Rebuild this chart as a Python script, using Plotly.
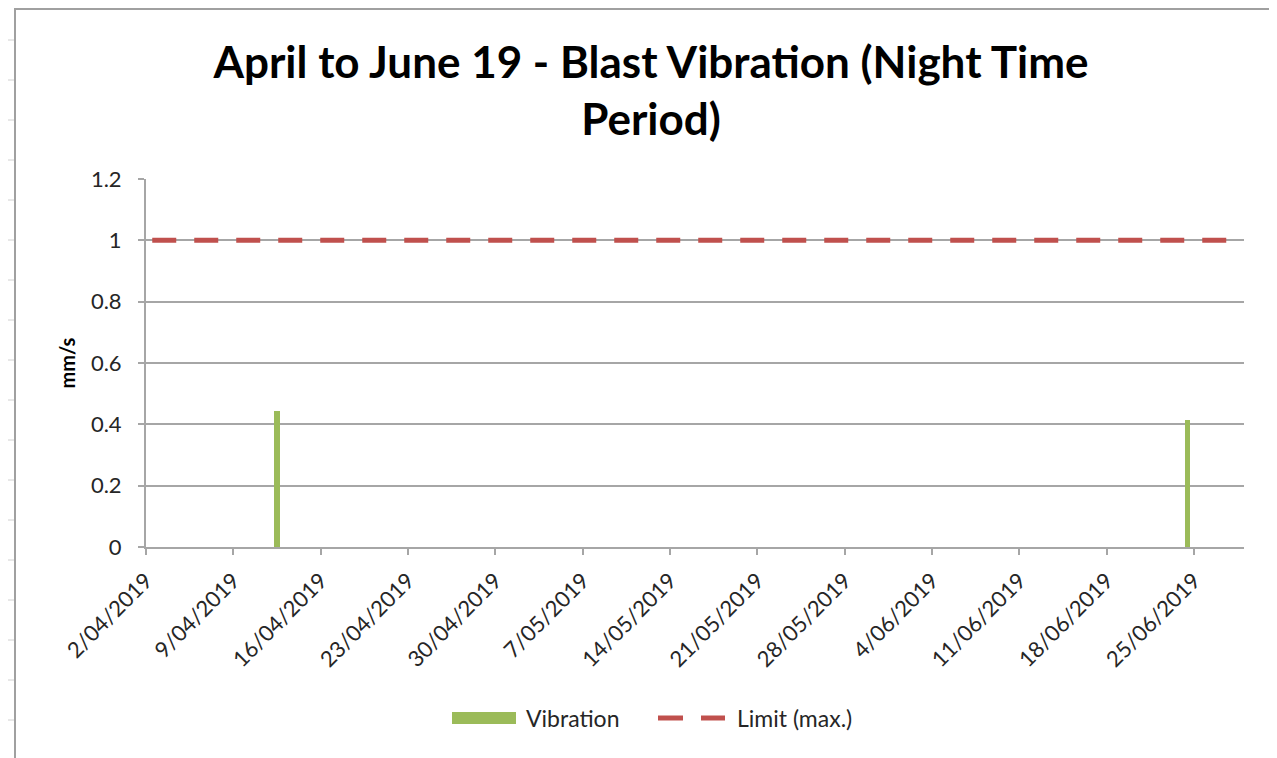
import pandas as pd
import plotly.graph_objects as go

# blast readings (night time period)
vib_dates = ["2019-04-12 12:00", "2019-06-24 12:00"]
vib_values = [0.445, 0.415]

# limit line
limit_dates = ["2019-04-02 12:00", "2019-06-28 12:00"]
limit_values = [1, 1]

tick_dates = ["2019-04-02", "2019-04-09", "2019-04-16", "2019-04-23", "2019-04-30",
              "2019-05-07", "2019-05-14", "2019-05-21", "2019-05-28", "2019-06-04",
              "2019-06-11", "2019-06-18", "2019-06-25"]
tick_labels = ["2/04/2019", "9/04/2019", "16/04/2019", "23/04/2019", "30/04/2019",
               "7/05/2019", "14/05/2019", "21/05/2019", "28/05/2019", "4/06/2019",
               "11/06/2019", "18/06/2019", "25/06/2019"]

green = '#9BBB59'
red = '#C0504D'
grid = '#A6A6A6'
txt = '#262626'
FONT = 'Lato, Open Sans, sans-serif'

fig = go.Figure()
fig.add_trace(go.Bar(
    x=pd.to_datetime(vib_dates), y=vib_values, name='Vibration',
    width=0.42 * 86400000, marker=dict(color=green, line=dict(width=0)),
    showlegend=False
))
fig.add_trace(go.Scatter(
    x=pd.to_datetime(limit_dates), y=limit_values, name='Limit (max.)',
    mode='lines', line=dict(color=red, width=5, dash='24px,18px'),
    showlegend=False
))

# page has an 8px body margin, so work in screen pixels and shift back
OFF = 8
FW, FH = 1277 - OFF, 758 - OFF
L, R, T, B = 146, 1244, 179, 547   # plot area on screen
W, H = R - L, B - T
px = lambda x: (x - L) / W
py = lambda y: (B - y) / H

shapes = [
    dict(type='line', xref='paper', yref='paper', x0=px(15), x1=px(1280), y0=py(OFF + 1), y1=py(OFF + 1),
         line=dict(color='#A0A0A0', width=2)),
    dict(type='line', xref='paper', yref='paper', x0=px(15), x1=px(15), y0=py(OFF), y1=py(770),
         line=dict(color='#A0A0A0', width=2)),
]
# spreadsheet row marks peeking behind the chart
for yy in range(40, 758, 40):
    shapes.append(dict(type='line', xref='paper', yref='paper', x0=px(OFF), x1=px(14),
                       y0=py(yy), y1=py(yy), line=dict(color='#D0D0D0', width=1)))

# legend drawn by hand (wide swatch + two dashes like the original)
shapes += [
    dict(type='rect', xref='paper', yref='paper', x0=px(452), x1=px(516), y0=py(724), y1=py(712),
         fillcolor=green, line=dict(width=0)),
    dict(type='line', xref='paper', yref='paper', x0=px(658), x1=px(683), y0=py(718), y1=py(718),
         line=dict(color=red, width=5)),
    dict(type='line', xref='paper', yref='paper', x0=px(701), x1=px(725), y0=py(718), y1=py(718),
         line=dict(color=red, width=5)),
]
annotations = [
    dict(text='Vibration', xref='paper', yref='paper', x=px(524), y=py(718), xanchor='left',
         yanchor='middle', showarrow=False, font=dict(size=23, color=txt)),
    dict(text='Limit (max.)', xref='paper', yref='paper', x=px(735), y=py(718), xanchor='left',
         yanchor='middle', showarrow=False, font=dict(size=23, color=txt)),
]

fig.update_layout(
    width=FW, height=FH,
    margin=dict(l=L - OFF, r=FW - (R - OFF), t=T - OFF, b=FH - (B - OFF), autoexpand=False),
    paper_bgcolor='white', plot_bgcolor='white',
    font=dict(family=FONT, color=txt, size=20),
    title=dict(text='<b>April to June 19 - Blast Vibration (Night Time<br>Period)</b>',
               x=(651 - OFF) / FW, xanchor='center', y=1 - 70 / FH, yanchor='top',
               font=dict(size=44, color='black', family=FONT)),
    showlegend=False,
    bargap=0,
    shapes=shapes,
    annotations=annotations,
)
fig.update_xaxes(
    type='date', range=['2019-04-02', '2019-06-29'],
    tickmode='array', tickvals=pd.to_datetime(tick_dates), ticktext=tick_labels,
    tickangle=-45, tickfont=dict(size=22, color=txt), ticklabelstandoff=4,
    showgrid=False, showline=True, linecolor=grid, linewidth=2,
    ticks='outside', ticklen=6, tickcolor=grid, tickwidth=2, zeroline=False,
)
fig.update_yaxes(
    range=[0, 1.2], dtick=0.2, tickformat='~g',
    tickfont=dict(size=22, color=txt), ticklabelstandoff=12,
    title=dict(text='<b>mm/s</b>', font=dict(size=20, color='black'), standoff=10),
    showgrid=True, gridcolor=grid, gridwidth=2,
    showline=True, linecolor=grid, linewidth=2,
    ticks='outside', ticklen=6, tickcolor=grid, tickwidth=2, zeroline=False,
)

fig.write_html("out.html")
